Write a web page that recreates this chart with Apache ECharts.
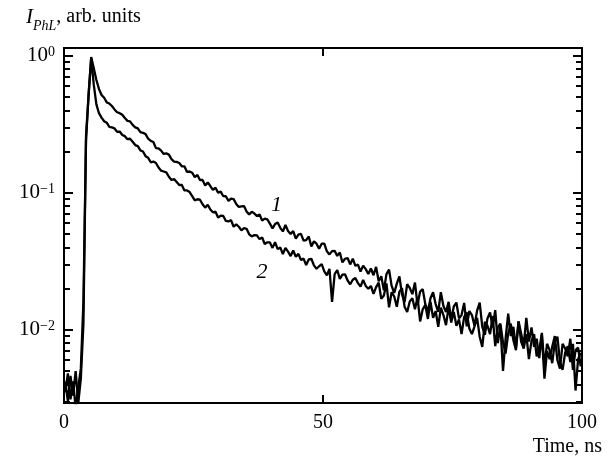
<!DOCTYPE html>
<html>
<head>
<meta charset="utf-8">
<script src="https://cdn.jsdelivr.net/npm/echarts@6/dist/echarts.min.js"></script>
<style>
  html, body { margin: 0; padding: 0; background: #fff; }
  #chart { width: 610px; height: 464px; }
</style>
</head>
<body>
<div id="chart"></div>
<script>
// sampling of the decay curves (ns)
var timeStart = 0.25;
var timeStep = 0.5;

// curve 1 (upper)
var curve1 = [
  0.0035, 0.0048, 0.0031, 0.0042, 0.0027, 0.0038, 0.0052, 0.016, 0.24, 0.52,
  0.98, 0.81, 0.666, 0.573, 0.518, 0.494, 0.457, 0.448, 0.430, 0.406,
  0.387, 0.381, 0.371, 0.351, 0.335, 0.332, 0.313, 0.300, 0.295, 0.277,
  0.274, 0.268, 0.248, 0.239, 0.235, 0.212, 0.211, 0.203, 0.192, 0.194,
  0.190, 0.176, 0.169, 0.168, 0.165, 0.156, 0.156, 0.142, 0.143, 0.140,
  0.130, 0.135, 0.124, 0.124, 0.113, 0.119, 0.112, 0.105, 0.109, 0.100,
  0.102, 0.0944, 0.0943, 0.0872, 0.0907, 0.0899, 0.0828, 0.0788, 0.0796, 0.0800,
  0.0731, 0.0694, 0.0728, 0.0706, 0.0676, 0.0694, 0.0627, 0.0648, 0.0640, 0.0595,
  0.0550, 0.0591, 0.0607, 0.0555, 0.0522, 0.0582, 0.0526, 0.0501, 0.0525, 0.0462,
  0.0495, 0.0502, 0.0447, 0.0451, 0.0480, 0.0406, 0.0442, 0.0425, 0.0391, 0.0425,
  0.0426, 0.0374, 0.0355, 0.0375, 0.0377, 0.0346, 0.0367, 0.0310, 0.0330, 0.0334,
  0.0300, 0.0330, 0.0293, 0.0299, 0.0266, 0.0294, 0.0277, 0.0255, 0.0280, 0.0250,
  0.0288, 0.0226, 0.0246, 0.0194, 0.0255, 0.0275, 0.0209, 0.0186, 0.0217, 0.0245,
  0.0181, 0.0159, 0.0215, 0.0202, 0.0182, 0.0221, 0.0152, 0.0190, 0.0198, 0.0154,
  0.0136, 0.0170, 0.0188, 0.0154, 0.0135, 0.0188, 0.0149, 0.0135, 0.0160, 0.0119,
  0.0148, 0.0158, 0.0121, 0.0128, 0.0157, 0.0106, 0.0137, 0.0128, 0.0107, 0.0138,
  0.0158, 0.0105, 0.0092, 0.0121, 0.0134, 0.0104, 0.0139, 0.0080, 0.0107, 0.0050,
  0.0086, 0.0131, 0.0090, 0.0105, 0.0074, 0.0115, 0.0094, 0.0077, 0.0122, 0.0082,
  0.0104, 0.0075, 0.0086, 0.0062, 0.0092, 0.0044, 0.0070, 0.0061, 0.0075, 0.0090,
  0.0060, 0.0052, 0.0079, 0.0073, 0.0064, 0.0086, 0.0051, 0.0071, 0.0074, 0.0054
];

// curve 2 (lower)
var curve2 = [
  0.0042, 0.0030, 0.0046, 0.0033, 0.0050, 0.0029, 0.0044, 0.011, 0.26, 0.52,
  0.96, 0.615, 0.442, 0.381, 0.354, 0.333, 0.325, 0.303, 0.300, 0.295,
  0.279, 0.280, 0.264, 0.259, 0.246, 0.248, 0.236, 0.223, 0.219, 0.204,
  0.200, 0.185, 0.180, 0.167, 0.169, 0.165, 0.153, 0.145, 0.143, 0.141,
  0.131, 0.124, 0.126, 0.120, 0.114, 0.114, 0.104, 0.104, 0.1012, 0.0944,
  0.0881, 0.0897, 0.0890, 0.0824, 0.0779, 0.0817, 0.0755, 0.0720, 0.0728, 0.0660,
  0.0680, 0.0677, 0.0623, 0.0618, 0.0632, 0.0565, 0.0587, 0.0565, 0.0531, 0.0551,
  0.0546, 0.0498, 0.0480, 0.0491, 0.0488, 0.0459, 0.0472, 0.0423, 0.0435, 0.0434,
  0.0396, 0.0436, 0.0388, 0.0399, 0.0357, 0.0396, 0.0372, 0.0345, 0.0379, 0.0341,
  0.0358, 0.0323, 0.0331, 0.0297, 0.0326, 0.0330, 0.0295, 0.0279, 0.0291, 0.0301,
  0.0267, 0.0250, 0.0278, 0.0160, 0.0255, 0.0273, 0.0235, 0.0253, 0.0254, 0.0229,
  0.0215, 0.0232, 0.0239, 0.0219, 0.0207, 0.0231, 0.0209, 0.0199, 0.0209, 0.0183,
  0.0205, 0.0221, 0.0168, 0.0178, 0.0218, 0.0146, 0.0188, 0.0175, 0.0147, 0.0190,
  0.0201, 0.0147, 0.0135, 0.0161, 0.0170, 0.0141, 0.0173, 0.0115, 0.0141, 0.0152,
  0.0120, 0.0160, 0.0122, 0.0137, 0.0105, 0.0145, 0.0128, 0.0108, 0.0147, 0.0113,
  0.0135, 0.0107, 0.0119, 0.0093, 0.0124, 0.0134, 0.0102, 0.0093, 0.0106, 0.0122,
  0.0089, 0.0075, 0.0114, 0.0107, 0.0093, 0.0126, 0.0076, 0.0104, 0.0111, 0.0081,
  0.0067, 0.0094, 0.0111, 0.0084, 0.0071, 0.0115, 0.0082, 0.0073, 0.0093, 0.0061,
  0.0083, 0.0093, 0.0064, 0.0071, 0.0095, 0.0054, 0.0079, 0.0071, 0.0057, 0.0081,
  0.0089, 0.0058, 0.0051, 0.0068, 0.0076, 0.0058, 0.0079, 0.0036, 0.0061, 0.0068
];

var xTicks = [0, 50, 100];
var yMajor = [0.01, 0.1, 1];
var yMinor = [0.003, 0.004, 0.005, 0.006, 0.007, 0.008, 0.009,
              0.02, 0.03, 0.04, 0.05, 0.06, 0.07, 0.08, 0.09,
              0.2, 0.3, 0.4, 0.5, 0.6, 0.7, 0.8, 0.9];
var yMin = 0.00292, yMax = 1.14;

var serif = "'Liberation Serif', 'DejaVu Serif', serif";

function pairs(arr) {
  var out = [];
  for (var i = 0; i < arr.length; i++) out.push([timeStart + timeStep * i, arr[i]]);
  return out;
}

// one log axis per tick kind, stacked on the same side
function logAxis(pos, ticks, len, labels) {
  return {
    type: 'log', position: pos, min: yMin, max: yMax,
    axisLine: { show: false },
    splitLine: { show: false },
    minorTick: { show: false },
    axisTick: { show: true, inside: true, length: len, customValues: ticks,
                lineStyle: { color: '#000', width: 2 } },
    axisLabel: labels ? {
      show: true, customValues: yMajor, margin: 9,
      formatter: function (v) {
        var e = Math.round(Math.log10(v));
        return '{b|10}{e|' + (e < 0 ? '\u2212' + (-e) : e) + '}';
      },
      rich: {
        b: { fontFamily: serif, fontSize: 21, color: '#000', lineHeight: 21, verticalAlign: 'bottom' },
        e: { fontFamily: serif, fontSize: 14, color: '#000', lineHeight: 14, verticalAlign: 'top', padding: [0, 0, 14, 0] }
      }
    } : { show: false }
  };
}

var chart = echarts.init(document.getElementById('chart'));

var option = {
  backgroundColor: '#fff',
  animation: false,
  title: {
    left: 21, top: 2,
    text: '{i|I}{sub|PhL}{t|, arb. units}',
    textStyle: {
      fontWeight: 'normal',
      rich: {
        i: { fontFamily: serif, fontStyle: 'italic', fontWeight: 'normal', fontSize: 21, color: '#000', lineHeight: 26, verticalAlign: 'top' },
        sub: { fontFamily: serif, fontStyle: 'italic', fontWeight: 'normal', fontSize: 14, color: '#000', lineHeight: 14, verticalAlign: 'bottom' },
        t: { fontFamily: serif, fontWeight: 'normal', fontSize: 20, color: '#000', lineHeight: 26, verticalAlign: 'top' }
      }
    }
  },
  grid: {
    left: 64, right: 28, top: 48, bottom: 61,
    show: true, borderColor: '#000', borderWidth: 2
  },
  xAxis: [{
    type: 'value', position: 'bottom', min: 0, max: 100, interval: 50,
    axisLine: { show: false }, splitLine: { show: false },
    axisTick: { show: true, inside: true, length: 8, lineStyle: { color: '#000', width: 2 } },
    axisLabel: { show: true, margin: 10, color: '#000', fontFamily: serif, fontSize: 20,
      customValues: xTicks },
    name: 'Time, ns', nameLocation: 'end', nameGap: 20,
    nameTextStyle: { fontFamily: serif, fontSize: 20, color: '#000', align: 'right', verticalAlign: 'top', padding: [34, 0, 0, 0] }
  }, {
    type: 'value', position: 'top', min: 0, max: 100, interval: 50,
    axisLine: { show: false }, splitLine: { show: false },
    axisTick: { show: true, inside: true, length: 8, lineStyle: { color: '#000', width: 2 } },
    axisLabel: { show: false }
  }],
  yAxis: [
    logAxis('left', yMajor, 9, true),
    logAxis('left', yMinor, 6, false),
    logAxis('right', yMajor, 9, false),
    logAxis('right', yMinor, 6, false)
  ],
  series: [{
    name: '1', type: 'line', data: pairs(curve1), showSymbol: false, symbol: 'none',
    clip: true,
    lineStyle: { color: '#000', width: 2.3 },
    markPoint: {
      symbol: 'circle', symbolSize: 0,
      label: { show: true, position: 'inside', formatter: '1', fontFamily: serif, fontStyle: 'italic', fontSize: 22, color: '#000' },
      data: [{ coord: [41, 0.081] }]
    }
  }, {
    name: '2', type: 'line', data: pairs(curve2), showSymbol: false, symbol: 'none',
    clip: true,
    lineStyle: { color: '#000', width: 2.3 },
    markPoint: {
      symbol: 'circle', symbolSize: 0,
      label: { show: true, position: 'inside', formatter: '2', fontFamily: serif, fontStyle: 'italic', fontSize: 22, color: '#000' },
      data: [{ coord: [38.2, 0.0263] }]
    }
  }]
};

chart.setOption(option);
</script>
</body>
</html>
